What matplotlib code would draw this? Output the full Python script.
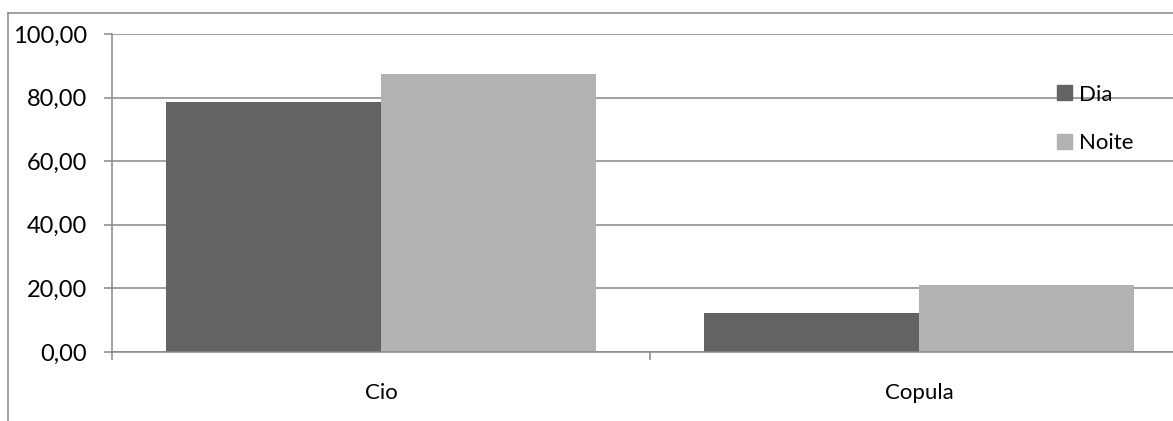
import matplotlib.pyplot as plt
import numpy as np
from matplotlib.lines import Line2D
from matplotlib.patches import Patch

categorias = ['Cio', 'Copula']
dia = [78.7, 12.2]
noite = [87.4, 21.0]
series = ['Dia', 'Noite']
yticks = [0, 20, 40, 60, 80, 100]

cor_dia = '#636363'
cor_noite = '#b2b2b2'
cinza = '#878787'

W, H = 1173, 421
fig = plt.figure(figsize=(W / 100, H / 100), dpi=100)
plt.rcParams['font.family'] = ['Lato', 'DejaVu Sans']

# area do grafico (estende alem da borda direita, como no original)
ax = fig.add_axes([112 / W, 1 - 352 / H, (1188 - 112) / W, (352 - 34) / H])

x = np.arange(len(categorias))
w = 0.4
ax.bar(x - w / 2, dia, w, color=cor_dia, zorder=3, label=series[0])
ax.bar(x + w / 2, noite, w, color=cor_noite, zorder=3, label=series[1])

ax.set_xlim(-0.5, len(categorias) - 0.5)
ax.set_ylim(0, 100)
ax.set_yticks(yticks)
ax.set_yticklabels([('%.2f' % v).replace('.', ',') for v in yticks], fontsize=17)
ax.yaxis.grid(True, color=cinza, lw=1.1, zorder=0)

ax.set_xticks(np.arange(len(categorias) + 1) - 0.5)
ax.set_xticklabels([])
ax.set_xticks(x, minor=True)
ax.set_xticklabels(categorias, minor=True, fontsize=16)
ax.tick_params(axis='x', which='minor', length=0, pad=22)
ax.tick_params(axis='x', which='major', length=6, width=1.1, color=cinza)
ax.tick_params(axis='y', length=6, width=1.1, color=cinza, pad=12)

for s in ['top', 'right']:
    ax.spines[s].set_visible(False)
for s in ['left', 'bottom']:
    ax.spines[s].set_color(cinza)
    ax.spines[s].set_linewidth(1.1)
    ax.spines[s].set_zorder(4)

handles = [Patch(color=cor_dia), Patch(color=cor_noite)]
fig.legend(handles, series, loc='center left', bbox_to_anchor=(1057 / W, 1 - 119 / H),
           frameon=False, fontsize=16, borderpad=0, borderaxespad=0,
           handlelength=0.68, handleheight=0.68, handletextpad=0.3, labelspacing=1.3)

# borda externa do grafico
fig.add_artist(Line2D([8 / W, 8 / W], [0, 1 - 13 / H], transform=fig.transFigure, color=cinza, lw=1.1))
fig.add_artist(Line2D([8 / W, 1], [1 - 13 / H, 1 - 13 / H], transform=fig.transFigure, color=cinza, lw=1.1))

fig.savefig('out.png', dpi=100)
